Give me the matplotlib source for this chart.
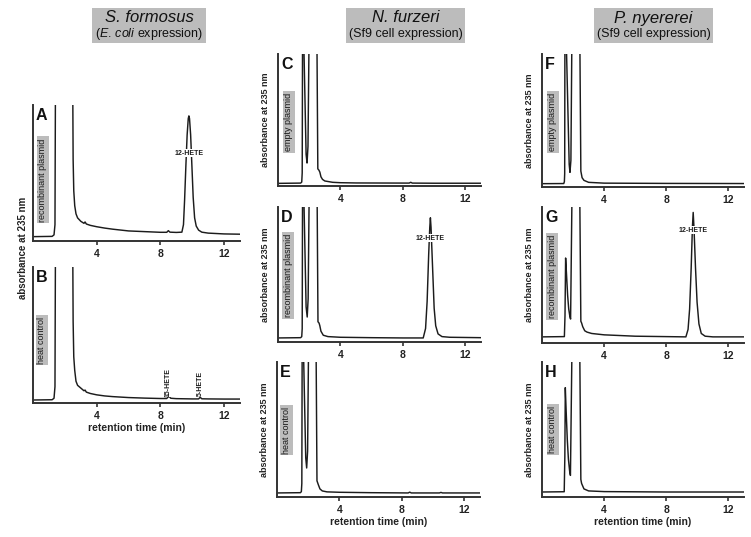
import numpy as np
import matplotlib
matplotlib.use('Agg')
import matplotlib.pyplot as plt
from matplotlib.patches import Rectangle

plt.rcParams['font.family'] = ['Liberation Sans', 'DejaVu Sans']
plt.rcParams['mathtext.fontset'] = 'custom'
plt.rcParams['mathtext.rm'] = 'Liberation Sans'
plt.rcParams['mathtext.it'] = 'Liberation Sans:italic'

# ---- chromatogram traces (time in min, absorbance in a.u., 0-100 = full scale)
A_t = [0, 1.2, 1.32, 1.38, 1.42, 2.48, 2.52, 2.56, 2.62, 2.7, 2.8, 3.0, 3.2, 3.27, 3.35, 3.6, 4.0,
       4.5, 5.0, 6.0, 7.0, 8.0, 8.4, 8.5, 8.6, 9.0, 9.35, 9.45, 9.52, 9.6, 9.68, 9.75, 9.79, 9.83,
       9.9, 9.98, 10.06, 10.15, 10.25, 10.4, 10.6, 11.0, 12.0, 13.0]
A_y = [3.2, 3.4, 4.5, 12, 150, 150, 60, 37, 26, 20, 17, 14.5, 13, 14, 12.5, 11.5, 10.5,
       9.5, 8.7, 7.4, 6.9, 6.4, 6.4, 7.6, 6.5, 6.3, 6.5, 12, 30, 55, 78, 90, 92, 90,
       78, 55, 32, 17, 11, 8, 6.5, 5.8, 5.2, 5.0]

B_t = [0, 1.2, 1.32, 1.38, 1.42, 2.48, 2.52, 2.56, 2.62, 2.7, 2.8, 3.0, 3.2, 3.27, 3.35, 3.6, 4.0,
       4.5, 5.0, 6.0, 7.0, 8.0, 8.4, 8.52, 8.65, 9.0, 10.0, 10.4, 10.5, 10.6, 11.0, 12.0, 13.0]
B_y = [2.2, 2.4, 3.5, 12, 150, 150, 60, 34, 24, 16, 13, 11, 9, 9.5, 8, 7, 6,
       5.2, 4.7, 4.0, 3.6, 3.3, 3.3, 5.2, 3.5, 3.2, 3.0, 3.0, 4.2, 3.1, 3.0, 2.9, 2.9]

C_t = [0, 1.45, 1.52, 1.55, 1.58, 1.8, 1.86, 1.92, 2.02, 2.47, 2.55, 2.62, 2.68, 2.75, 2.85,
       3.0, 3.5, 4.0, 5.0, 8.4, 8.5, 8.6, 10.0, 13.0]
C_y = [2.0, 2.2, 3.0, 10, 150, 24, 17.4, 30, 150, 150, 13, 12, 10.5, 7, 5,
       3.8, 2.8, 2.5, 2.3, 2.2, 2.8, 2.2, 2.1, 2.1]

D_t = [0, 1.45, 1.52, 1.55, 1.58, 1.8, 1.87, 1.93, 2.03, 2.48, 2.56, 2.63, 2.68, 2.75, 2.9,
       3.2, 4.0, 6.0, 8.0, 9.3, 9.45, 9.55, 9.65, 9.72, 9.76, 9.8, 9.9, 10.0, 10.1, 10.25,
       10.5, 11.0, 13.0]
D_y = [3.0, 3.2, 4.0, 10, 150, 26, 18.5, 32, 150, 150, 15, 14, 12, 8, 5,
       4, 3.5, 3.2, 3.0, 3.0, 10, 30, 65, 85, 92, 85, 55, 25, 12, 6,
       4, 3.5, 3.2]

E_t = [0, 1.5, 1.56, 1.59, 1.62, 1.84, 1.9, 1.96, 2.05, 2.48, 2.56, 2.65, 2.75, 2.9, 3.2,
       4.0, 6.0, 8.4, 8.5, 8.6, 10.4, 10.5, 10.6, 13.0]
E_y = [3.0, 3.2, 4.0, 10, 150, 29, 21.5, 34, 150, 150, 12, 9, 6, 4.5, 3.8,
       3.5, 3.2, 3.0, 3.6, 3.0, 3.0, 3.4, 3.0, 3.0]

F_t = [0, 1.4, 1.44, 1.46, 1.48, 1.75, 1.8, 1.86, 1.95, 2.41, 2.5, 2.58, 2.7, 3.0, 4.0,
       8.0, 13.0]
F_y = [2.5, 2.6, 4.0, 10, 150, 17, 11, 20, 150, 150, 12, 7, 5, 3.5, 2.9,
       2.7, 2.6]

G_t = [0, 1.44, 1.48, 1.52, 1.58, 1.65, 1.72, 1.8, 1.84, 1.97, 2.4, 2.5, 2.55, 2.62, 2.75,
       2.9, 3.2, 4.0, 6.0, 9.26, 9.4, 9.5, 9.6, 9.68, 9.73, 9.78, 9.88, 9.98, 10.1, 10.25,
       10.5, 11.0, 13.0]
G_y = [4.5, 4.7, 20, 62.5, 50, 35, 25, 19, 17.6, 150, 150, 16, 14.7, 12, 9,
       8, 7, 6, 5, 4.5, 10, 25, 55, 85, 96, 85, 55, 30, 14, 7,
       5, 4.5, 4.5]

H_t = [0, 1.43, 1.47, 1.5, 1.56, 1.63, 1.7, 1.78, 1.83, 1.97, 2.4, 2.5, 2.55, 2.7, 3.0,
       4.0, 8.0, 13.0]
H_y = [3.7, 3.9, 30, 81, 62, 42, 28, 19, 16, 150, 150, 13, 10, 6, 4.5,
       4.0, 3.7, 3.7]

panel_letters = ['A', 'B', 'C', 'D', 'E', 'F', 'G', 'H']
conditions = ['recombinant plasmid', 'heat control',
              'empty plasmid', 'recombinant plasmid', 'heat control',
              'empty plasmid', 'recombinant plasmid', 'heat control']
traces = [(A_t, A_y), (B_t, B_y), (C_t, C_y), (D_t, D_y),
          (E_t, E_y), (F_t, F_y), (G_t, G_y), (H_t, H_y)]
x_ticks = [4, 8, 12]

species = ['S. formosus', 'N. furzeri', 'P. nyererei']
systems = ['E. coli', 'Sf9 cell', 'Sf9 cell']

# peak annotations: panel, label, time, height, rotation
peak_notes = [('A', '12-HETE', 9.78, 64.7, 0),
              ('B', '15-HETE', 8.5, 15.4, 90),
              ('B', '5-HETE', 10.5, 14.7, 90),
              ('D', '12-HETE', 9.75, 77, 0),
              ('G', '12-HETE', 9.73, 83, 0)]

# ---- layout (pixel boxes: left, right, top, bottom)
W, H = 751, 537
boxes = {'A': (33, 240, 105, 241), 'B': (33, 240, 267, 403),
         'C': (278, 481, 54, 186), 'D': (278, 481, 207, 342), 'E': (277, 480, 362, 497),
         'F': (542, 744, 54, 187), 'G': (542, 744, 207, 343), 'H': (542, 744, 362, 497)}
cond_pos = {'A': (0.048, 0.449), 'B': (0.043, 0.463), 'C': (0.054, 0.485),
            'D': (0.05, 0.496), 'E': (0.048, 0.496), 'F': (0.054, 0.49),
            'G': (0.05, 0.49), 'H': (0.054, 0.5)}

line_col = '#1c1c1c'
spine_col = '#333333'
box_gray = '#bcbcbc'

fig = plt.figure(figsize=(W / 100, H / 100), dpi=100)

axes = {}
for letter, cond, (t, y) in zip(panel_letters, conditions, traces):
    l, r, top, b = boxes[letter]
    ax = fig.add_axes([l / W, 1 - b / H, (r - l) / W, (b - top) / H])
    axes[letter] = ax
    ax.plot(t, y, color=line_col, lw=1.05, solid_joinstyle='round')
    ax.set_xlim(0, 13)
    ax.set_ylim(0, 100)
    for s in ['top', 'right']:
        ax.spines[s].set_visible(False)
    for s in ['left', 'bottom']:
        ax.spines[s].set_linewidth(1.4)
        ax.spines[s].set_color(spine_col)
    ax.set_yticks([])
    ax.set_xticks(x_ticks)
    ax.set_xticklabels([str(v) for v in x_ticks], fontsize=7.5, fontweight='bold', color='#222222')
    ax.tick_params(axis='x', direction='out', length=3, width=1.2, color=spine_col, pad=3)
    ax.patch.set_alpha(0)

    ax.text(3 / (r - l), 1 - 3 / (b - top), letter, transform=ax.transAxes,
            ha='left', va='top', fontsize=11.5, fontweight='bold', color='#111111')
    cx, cy = cond_pos[letter]
    ax.text(cx, cy, cond, transform=ax.transAxes, rotation=90, ha='center', va='center',
            fontsize=6.5, color='#1a1a1a',
            bbox=dict(boxstyle='square,pad=0.2', fc=box_gray, ec='none'))

    if letter not in ('A', 'B'):
        ax.set_ylabel('absorbance at 235 nm', fontsize=6.5, fontweight='bold', color='#222222')
        ax.yaxis.set_label_coords(-8 / (r - l), 0.5)

for letter, txt, tx, ty, rot in peak_notes:
    axes[letter].text(tx, ty, txt, rotation=rot, ha='center', va='center',
                      fontsize=5, fontweight='bold', color='#1a1a1a',
                      bbox=dict(boxstyle='square,pad=0.1', fc='white', ec='none'))

for letter in ('B', 'E', 'H'):
    axes[letter].set_xlabel('retention time (min)', fontsize=7.5, fontweight='bold',
                            color='#222222', labelpad=1)

fig.text(23 / W, 1 - 248 / H, 'absorbance at 235 nm', rotation=90, ha='center', va='center',
         fontsize=7, fontweight='bold', color='#222222')

# ---- column headers
header_boxes = [(92, 206), (346, 465), (594, 713)]
for (x0, x1), sp, sysname in zip(header_boxes, species, systems):
    fig.patches.append(Rectangle((x0 / W, 1 - 43 / H), (x1 - x0) / W, 35 / H,
                                 transform=fig.transFigure, fc=box_gray, ec='none'))
    xc = (x0 + x1) / 2 / W
    fig.text(xc, 1 - 18 / H, sp, ha='center', va='center', fontsize=12,
             style='italic', color='#111111')
    if sysname == 'E. coli':
        sub = r'($\mathit{E.\,coli}$ expression)'
    else:
        sub = '(' + sysname + ' expression)'
    fig.text(xc, 1 - 34 / H, sub, ha='center', va='center', fontsize=9, color='#111111')

fig.savefig('out.png', dpi=100)
